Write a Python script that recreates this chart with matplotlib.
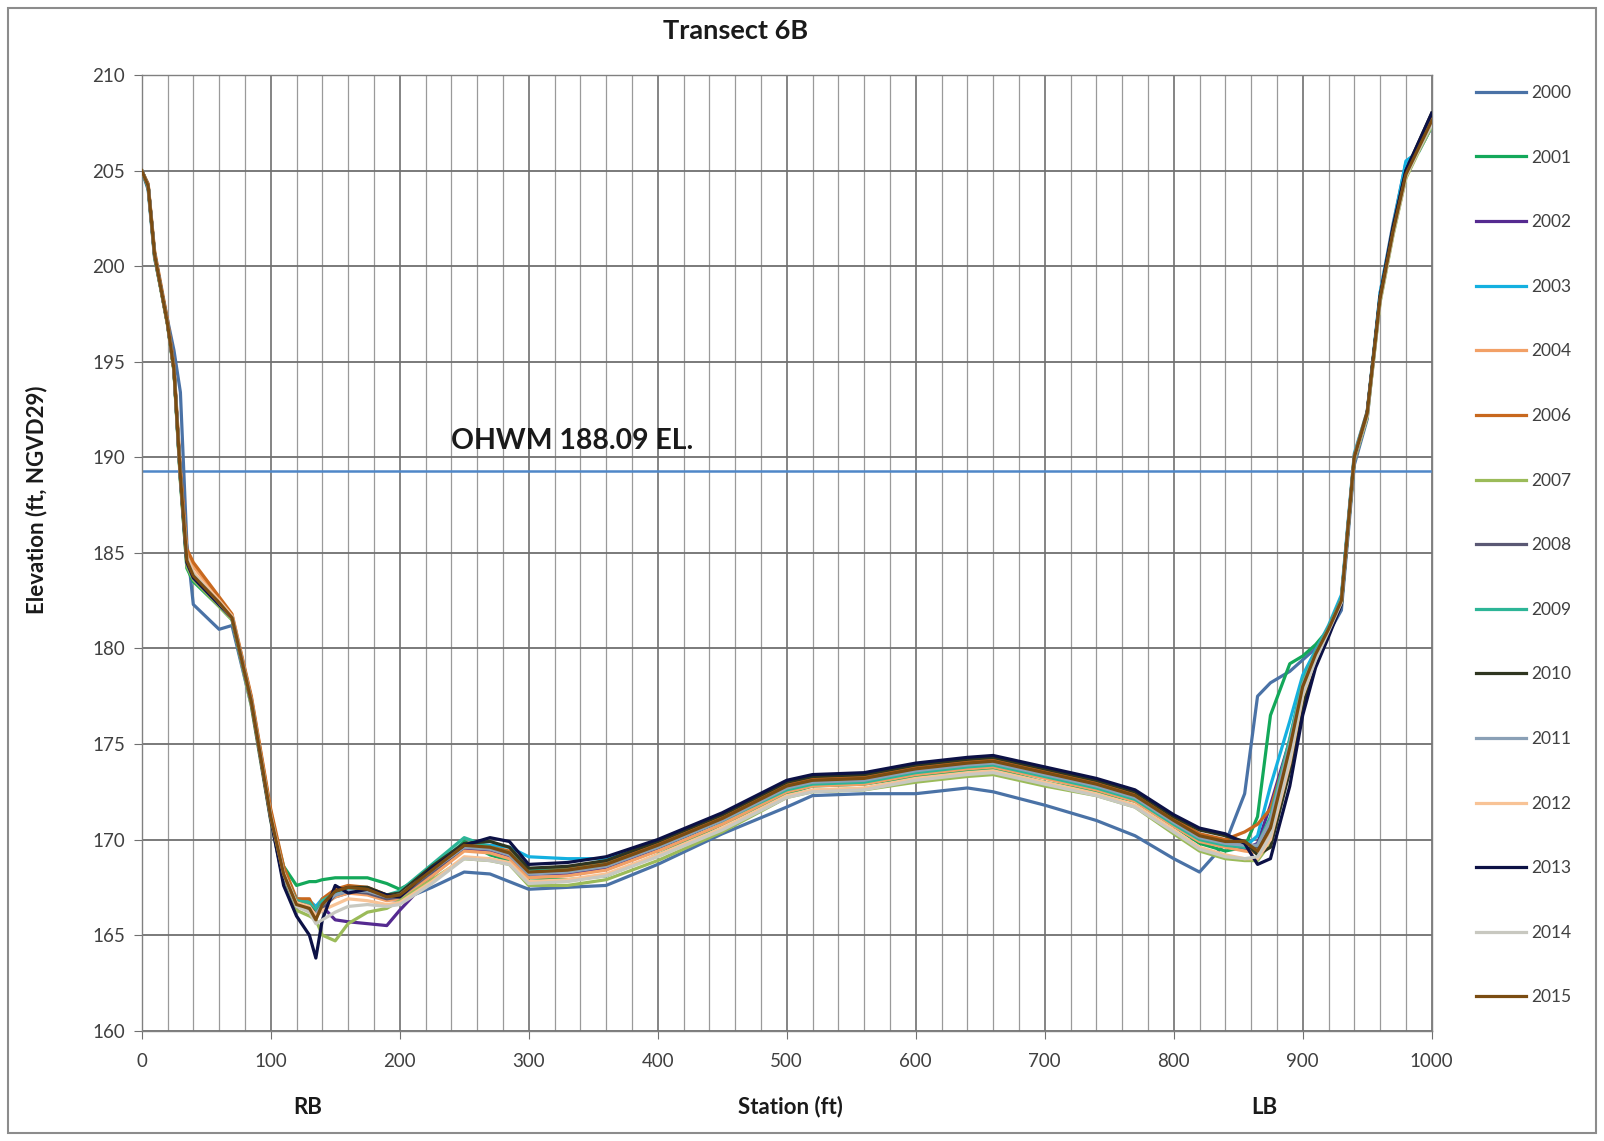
import matplotlib
matplotlib.use("Agg")
import matplotlib.pyplot as plt
from matplotlib.patches import Rectangle
from matplotlib.transforms import blended_transform_factory

plt.rcParams['font.family'] = ['Lato', 'DejaVu Sans']

station = [0, 5, 10, 20, 25, 30, 35, 40, 60, 70, 85, 100,
           110, 120, 130, 135, 140, 150, 160, 175, 190, 200, 225, 250, 270, 285, 300,
           330, 360, 400, 450, 500, 520, 560, 600, 640, 660, 700, 740, 770, 800,
           820, 840, 855, 865, 875, 890, 900, 910, 920, 930, 940, 950, 960, 970, 980, 990, 1000]

years = ['2000', '2001', '2002', '2003', '2004', '2006', '2007', '2008',
         '2009', '2010', '2011', '2012', '2013', '2014', '2015']

elev_2000 = [205.0, 204.0, 200.4, 197.2, 195.6, 193.4, 185.5, 182.3, 181.0, 181.2, 177.0, 171.0,
             167.8, 166.6, 166.6, 166.3, 166.7, 167.0, 167.2, 167.2, 166.9, 166.8, 167.5, 168.3, 168.2, 167.8, 167.4,
             167.5, 167.6, 168.7, 170.3, 171.7, 172.3, 172.4, 172.4, 172.7, 172.5, 171.8, 171.0, 170.2, 169.0,
             168.3, 169.8, 172.4, 177.5, 178.2, 178.8, 179.4, 180.0, 180.8, 182.0, 189.6, 192.0, 198.6, 202.2, 205.4, 206.0, 207.3]
elev_2001 = [205.0, 204.1, 200.5, 197.0, 194.5, 188.8, 184.2, 183.5, 182.2, 181.5, 177.1, 171.3,
             168.6, 167.6, 167.8, 167.8, 167.9, 168.0, 168.0, 168.0, 167.7, 167.4, 168.3, 169.9, 169.2, 168.9, 168.0,
             167.9, 168.1, 169.2, 170.8, 172.4, 172.8, 172.9, 173.3, 173.6, 173.7, 173.0, 172.5, 172.0, 170.7,
             169.8, 169.4, 169.6, 171.2, 176.5, 179.2, 179.6, 180.2, 181.0, 182.4, 189.9, 192.2, 198.2, 201.7, 204.7, 206.1, 207.4]
elev_2002 = [205.0, 204.2, 200.6, 197.0, 194.6, 188.9, 184.4, 183.7, 182.3, 181.6, 177.2, 171.2,
             168.0, 166.4, 166.6, 166.2, 166.5, 165.8, 165.7, 165.6, 165.5, 166.3, 168.1, 169.5, 169.4, 169.1, 168.2,
             168.2, 168.5, 169.5, 171.0, 172.6, 173.0, 173.1, 173.6, 173.9, 174.0, 173.4, 172.8, 172.2, 170.9,
             170.0, 169.7, 169.5, 169.8, 171.8, 175.2, 178.2, 179.8, 181.1, 182.6, 190.0, 192.3, 198.3, 201.8, 204.8, 206.2, 207.6]
elev_2003 = [205.0, 204.2, 200.6, 197.0, 194.6, 188.9, 184.6, 183.8, 182.4, 181.6, 177.3, 171.3,
             168.2, 166.9, 166.8, 166.5, 166.9, 167.2, 167.3, 167.3, 167.0, 167.2, 168.6, 169.8, 169.7, 169.6, 169.1,
             169.0, 169.0, 169.8, 171.2, 172.7, 173.0, 173.1, 173.6, 173.9, 174.0, 173.4, 172.8, 172.2, 170.9,
             170.1, 169.8, 169.6, 170.2, 172.8, 176.2, 178.6, 179.9, 181.2, 182.8, 190.2, 192.4, 198.6, 202.0, 205.5, 206.0, 207.3]
elev_2004 = [205.0, 204.3, 200.7, 197.1, 194.7, 189.2, 185.0, 184.3, 182.6, 181.7, 177.4, 171.5,
             168.4, 166.8, 166.6, 166.0, 166.5, 167.0, 167.2, 167.1, 166.8, 166.9, 168.1, 169.4, 169.3, 169.0, 168.0,
             168.1, 168.4, 169.4, 170.8, 172.5, 172.8, 172.9, 173.4, 173.7, 173.8, 173.2, 172.6, 172.0, 170.7,
             169.9, 169.6, 169.4, 169.3, 170.3, 174.3, 177.7, 179.5, 180.9, 182.4, 189.9, 192.2, 198.2, 201.7, 204.7, 206.1, 207.4]
elev_2006 = [205.0, 204.3, 200.8, 197.2, 194.8, 189.4, 185.2, 184.5, 182.7, 181.8, 177.5, 171.6,
             168.6, 166.9, 166.9, 166.2, 166.9, 167.4, 167.6, 167.5, 167.1, 167.2, 168.5, 169.7, 169.6, 169.4, 168.4,
             168.5, 168.8, 169.8, 171.2, 172.9, 173.2, 173.3, 173.8, 174.1, 174.2, 173.6, 173.0, 172.4, 171.1,
             170.3, 170.0, 170.4, 170.8, 171.6, 175.0, 178.2, 179.8, 181.1, 182.6, 190.1, 192.4, 198.4, 201.9, 204.9, 206.3, 207.7]
elev_2007 = [205.0, 204.2, 200.5, 196.9, 194.5, 188.7, 184.3, 183.6, 182.2, 181.5, 177.0, 171.0,
             167.9, 166.3, 166.0, 165.8, 165.0, 164.7, 165.6, 166.2, 166.4, 166.8, 167.9, 169.0, 168.9, 168.7, 167.6,
             167.6, 167.9, 168.9, 170.4, 172.2, 172.5, 172.6, 173.0, 173.3, 173.4, 172.8, 172.3, 171.7, 170.3,
             169.4, 169.0, 168.9, 168.9, 169.8, 173.8, 177.3, 179.3, 180.8, 182.3, 189.8, 192.1, 198.1, 201.6, 204.6, 206.0, 207.3]
elev_2008 = [205.0, 204.2, 200.6, 197.0, 194.6, 188.9, 184.5, 183.7, 182.3, 181.6, 177.2, 171.1,
             168.1, 166.5, 166.3, 166.0, 166.4, 167.1, 167.3, 167.2, 166.9, 167.0, 168.3, 169.6, 169.5, 169.2, 168.2,
             168.3, 168.6, 169.6, 171.0, 172.7, 173.0, 173.1, 173.6, 173.9, 174.0, 173.4, 172.8, 172.2, 170.9,
             170.1, 169.8, 169.7, 169.6, 170.8, 174.9, 178.0, 179.6, 181.0, 182.5, 190.0, 192.3, 198.3, 201.8, 204.8, 206.2, 207.6]
elev_2009 = [205.0, 204.2, 200.6, 197.0, 194.6, 188.9, 184.5, 183.7, 182.3, 181.6, 177.2, 171.2,
             168.2, 166.8, 166.7, 166.3, 166.8, 167.2, 167.4, 167.4, 167.1, 167.3, 168.7, 170.1, 169.6, 169.3, 168.4,
             168.4, 168.7, 169.6, 171.0, 172.6, 172.9, 173.0, 173.5, 173.8, 173.9, 173.3, 172.7, 172.1, 170.8,
             170.0, 169.7, 169.6, 169.7, 171.2, 175.3, 178.3, 179.8, 181.1, 182.6, 190.0, 192.3, 198.3, 201.8, 204.8, 206.2, 207.6]
elev_2010 = [205.0, 204.2, 200.6, 197.0, 194.6, 189.0, 184.6, 183.8, 182.4, 181.6, 177.2, 171.2,
             168.3, 166.7, 166.5, 166.1, 166.6, 167.3, 167.5, 167.5, 167.1, 167.2, 168.6, 169.8, 169.9, 169.6, 168.5,
             168.6, 168.9, 169.9, 171.3, 173.0, 173.3, 173.4, 173.9, 174.2, 174.3, 173.7, 173.1, 172.5, 171.2,
             170.5, 170.2, 169.9, 169.2, 169.6, 173.6, 177.0, 179.2, 180.8, 182.4, 189.9, 192.3, 198.4, 202.0, 205.0, 206.5, 208.0]
elev_2011 = [205.0, 204.2, 200.6, 197.0, 194.6, 188.9, 184.5, 183.7, 182.3, 181.6, 177.2, 171.2,
             168.1, 166.6, 166.4, 166.1, 166.6, 167.1, 167.3, 167.3, 167.0, 167.1, 168.4, 169.6, 169.5, 169.2, 168.2,
             168.3, 168.6, 169.6, 171.0, 172.7, 173.0, 173.1, 173.6, 173.9, 174.0, 173.4, 172.8, 172.2, 170.9,
             170.1, 169.8, 169.7, 169.7, 171.0, 175.0, 178.1, 179.7, 181.0, 182.5, 190.0, 192.3, 198.3, 201.8, 204.8, 206.2, 207.6]
elev_2012 = [205.0, 204.2, 200.6, 197.0, 194.6, 189.0, 184.8, 184.0, 182.5, 181.7, 177.3, 171.3,
             168.3, 166.7, 166.5, 166.0, 166.3, 166.6, 166.9, 166.8, 166.6, 166.7, 167.8, 169.1, 169.0, 168.8, 167.8,
             167.9, 168.2, 169.2, 170.6, 172.3, 172.6, 172.7, 173.2, 173.5, 173.6, 173.0, 172.4, 171.8, 170.5,
             169.6, 169.2, 169.0, 169.0, 170.0, 174.0, 177.5, 179.4, 180.9, 182.4, 189.9, 192.2, 198.2, 201.7, 204.7, 206.1, 207.5]
elev_2013 = [205.0, 204.2, 200.6, 197.0, 194.6, 189.0, 184.5, 183.7, 182.3, 181.6, 177.2, 171.1,
             167.6, 166.0, 165.0, 163.8, 165.8, 167.6, 167.2, 167.4, 167.1, 167.0, 168.5, 169.7, 170.1, 169.9, 168.7,
             168.8, 169.1, 170.0, 171.4, 173.1, 173.4, 173.5, 174.0, 174.3, 174.4, 173.8, 173.2, 172.6, 171.3,
             170.6, 170.3, 169.8, 168.7, 169.0, 172.8, 176.5, 179.0, 180.6, 182.3, 189.9, 192.3, 198.4, 202.0, 205.0, 206.5, 208.0]
elev_2014 = [205.0, 204.2, 200.6, 197.0, 194.6, 189.0, 184.7, 183.9, 182.4, 181.6, 177.2, 171.2,
             168.2, 166.5, 166.2, 165.6, 165.8, 166.2, 166.5, 166.6, 166.5, 166.6, 167.7, 169.0, 168.9, 168.7, 167.7,
             167.8, 168.1, 169.1, 170.5, 172.2, 172.5, 172.6, 173.1, 173.4, 173.5, 172.9, 172.3, 171.7, 170.4,
             169.5, 169.1, 169.0, 169.1, 170.2, 174.2, 177.6, 179.4, 180.9, 182.4, 189.9, 192.2, 198.2, 201.7, 204.7, 206.1, 207.4]
elev_2015 = [205.0, 204.2, 200.6, 197.0, 194.6, 189.0, 184.6, 183.8, 182.4, 181.6, 177.2, 171.2,
             168.2, 166.6, 166.4, 165.8, 166.6, 167.3, 167.5, 167.4, 167.0, 167.1, 168.4, 169.7, 169.6, 169.3, 168.3,
             168.4, 168.7, 169.7, 171.1, 172.8, 173.1, 173.2, 173.7, 174.0, 174.1, 173.5, 172.9, 172.3, 171.0,
             170.2, 169.9, 169.9, 169.4, 170.6, 174.8, 178.0, 179.7, 181.0, 182.5, 190.0, 192.3, 198.3, 201.8, 204.8, 206.2, 207.6]

elevations = [elev_2000, elev_2001, elev_2002, elev_2003, elev_2004, elev_2006, elev_2007,
              elev_2008, elev_2009, elev_2010, elev_2011, elev_2012, elev_2013, elev_2014, elev_2015]

colors = ['#4a72a6', '#13a85a', '#552a90', '#14b0e0', '#f2a066', '#c8681e', '#9bbb59',
          '#5a5874', '#2db597', '#2f3620', '#8aa0b6', '#f8c396', '#0c1145', '#c8c8c0', '#7a4c12']

ohwm_x = [0, 1000]
ohwm_y = [189.3, 189.3]
ohwm_label = 'OHWM 188.09 EL.'

W, H = 1604, 1141
fig = plt.figure(figsize=(W / 100, H / 100), dpi=100)
ax = fig.add_axes([141.7 / W, 1 - 1030.7 / H, (1431.7 - 141.7) / W, (1030.7 - 75) / H])

# grid
ax.set_xlim(0, 1000)
ax.set_ylim(160, 210)
ax.set_xticks(range(0, 1001, 100))
ax.set_xticks(range(0, 1001, 20), minor=True)
ax.set_yticks(range(160, 211, 5))
ax.grid(which='minor', axis='x', color='#9a9a9a', lw=0.9)
ax.grid(which='major', axis='x', color='#707070', lw=1.2)
ax.grid(which='major', axis='y', color='#707070', lw=1.3)
ax.set_axisbelow(True)
for s in ax.spines.values():
    s.set_color('#808080')
    s.set_linewidth(1.0)
ax.tick_params(which='major', length=6, color='#707070', labelsize=13.5, labelcolor='#404040', pad=6)
ax.tick_params(which='minor', length=0)
ax.tick_params(axis='x', pad=10)

ax.plot(ohwm_x, ohwm_y, color='#4f87c8', lw=1.8, zorder=2)
ax.text(240, 190.45, ohwm_label, fontsize=20.4, fontweight='bold', color='#1a1a1a', va='baseline', ha='left')

for yr, ev, c in zip(years, elevations, colors):
    ax.plot(station, ev, color=c, lw=2.3, label=yr, zorder=3)

fig.text(736 / W, 1 - 31 / H, 'Transect 6B', ha='center', va='center', fontsize=19.5, fontweight='bold', color='#1a1a1a')
fig.text(37 / W, 1 - 500 / H, 'Elevation (ft, NGVD29)', rotation=90, ha='center', va='center',
         fontsize=16, fontweight='bold', color='#1a1a1a')
fig.text(790 / W, 1 - 1107 / H, 'Station (ft)', ha='center', va='center', fontsize=16, fontweight='bold', color='#1a1a1a')
tr = blended_transform_factory(ax.transData, fig.transFigure)
ax.text(129, 1 - 1107 / H, 'RB', transform=tr, ha='center', va='center', fontsize=16, fontweight='bold', color='#1a1a1a')
ax.text(870, 1 - 1107 / H, 'LB', transform=tr, ha='center', va='center', fontsize=16, fontweight='bold', color='#1a1a1a')

leg = fig.legend(loc='upper left', bbox_to_anchor=(1469 / W, 1 - 78 / H), frameon=False, fontsize=12.5,
                 labelspacing=2.80, handlelength=2.88, handletextpad=0.3, borderaxespad=0)
for t in leg.get_texts():
    t.set_color('#404040')

fig.patches.append(Rectangle((8 / W, 8 / H), (W - 16) / W, (H - 16) / H, transform=fig.transFigure,
                             fill=False, edgecolor='#8c8c8c', lw=1.5))

fig.savefig('out.png', dpi=100)
